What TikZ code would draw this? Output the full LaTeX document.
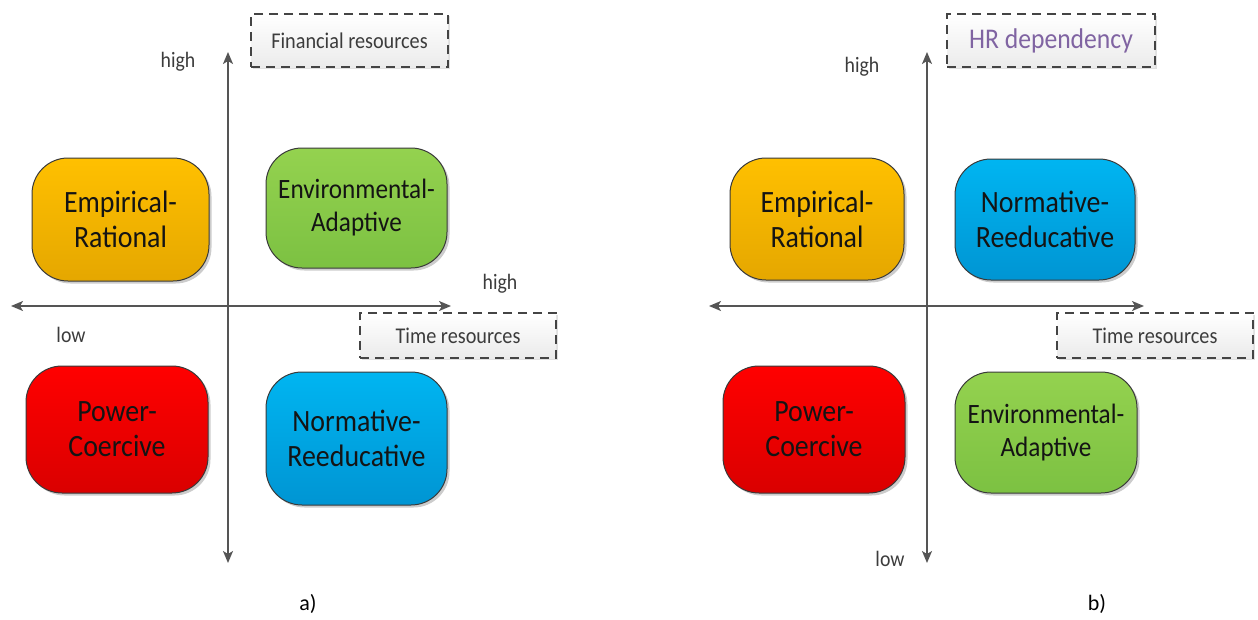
\documentclass[tikz,border=0pt]{standalone}
\usepackage{fontspec}
\setmainfont{Carlito}
\newfontfamily\narrowfont{Carlito}[FakeStretch=0.9]
\usetikzlibrary{arrows.meta,shadows}

\definecolor{boxline}{HTML}{3A3A3A}
\definecolor{textdark}{HTML}{141414}
\definecolor{axisgray}{HTML}{555555}
\definecolor{dashgray}{HTML}{444444}
\definecolor{labelgray}{HTML}{3C3C3C}
\definecolor{hrpurple}{HTML}{8064A2}
\definecolor{orangetop}{HTML}{FFC000}
\definecolor{orangebot}{HTML}{E5A700}
\definecolor{greentop}{HTML}{94D24F}
\definecolor{greenbot}{HTML}{7CC142}
\definecolor{bluetop}{HTML}{00B5F1}
\definecolor{bluebot}{HTML}{0095D3}
\definecolor{redtop}{HTML}{FF0000}
\definecolor{redbot}{HTML}{DA0000}
\definecolor{paletop}{HTML}{FFFFFF}
\definecolor{palebot}{HTML}{EBEBEB}

\tikzset{
  quad/.style={draw=boxline, line width=1pt, rounded corners=36pt,
    align=center, text=textdark, inner sep=0pt,
    font=\narrowfont\fontsize{31}{35}\selectfont,
    drop shadow={shadow xshift=2.5pt, shadow yshift=-2.5pt, opacity=0.2, fill=black}},
  smallquad/.style={quad, font=\narrowfont\fontsize{28}{33}\selectfont},
  orangebox/.style={top color=orangetop, bottom color=orangebot},
  greenbox/.style={top color=greentop, bottom color=greenbot},
  bluebox/.style={top color=bluetop, bottom color=bluebot},
  redbox/.style={top color=redtop, bottom color=redbot},
  legendbox/.style={draw=dashgray, line width=1.5pt, dash pattern=on 9pt off 6pt,
    top color=paletop, bottom color=palebot, inner sep=0pt,
    font=\narrowfont\fontsize{22.5}{26}\selectfont, text=labelgray,
    drop shadow={shadow xshift=2pt, shadow yshift=-2pt, opacity=0.12, fill=black}},
  axis/.style={draw=axisgray, line width=1.6pt,
    {Stealth[length=12pt,width=10pt,inset=3pt]}-{Stealth[length=12pt,width=10pt,inset=3pt]}},
  lbl/.style={font=\narrowfont\fontsize{22}{26}\selectfont, text=labelgray, inner sep=0pt},
  caption/.style={font=\fontsize{22}{26}\selectfont, text=black, inner sep=0pt}
}

\begin{document}
\begin{tikzpicture}[x=1pt, y=-1pt]
\useasboundingbox (0,0) rectangle (1258,619);

% ---------- panel a ----------
\coordinate (aTop) at (228,52);
\coordinate (aBot) at (228,563);
\coordinate (aLeft) at (11,306);
\coordinate (aRight) at (451,306);
\draw[axis] (aBot) -- (aTop);
\draw[axis] (aLeft) -- (aRight);

\node[legendbox, minimum width=197pt, minimum height=53pt] (finres) at (349.5,40.5) {Financial resources};
\node[legendbox, minimum width=196pt, minimum height=45pt] (timeA) at (458,335.5) {Time resources};

\node[quad, orangebox, minimum width=177pt, minimum height=123pt] (erA) at (120.5,219.5) {Empirical-\\Rational};
\node[smallquad, greenbox, minimum width=181pt, minimum height=120pt] (eaA) at (356.5,208) {Environmental-\\Adaptive};
\node[quad, redbox, minimum width=182pt, minimum height=127pt] (pcA) at (117,429.5) {Power-\\Coercive};
\node[quad, bluebox, minimum width=181pt, minimum height=133pt] (nrA) at (356.5,438.5) {Normative-\\Reeducative};

\node[lbl] (aHighV) at (178,62) {high};
\node[lbl] (aHighH) at (500,284) {high};
\node[lbl] (aLow) at (71,335) {low};
\node[caption] (capA) at (308,604) {a)};

% ---------- panel b ----------
\coordinate (bTop) at (927,52);
\coordinate (bBot) at (927,563);
\coordinate (bLeft) at (709,306);
\coordinate (bRight) at (1144,306);
\draw[axis] (bBot) -- (bTop);
\draw[axis] (bLeft) -- (bRight);

\node[legendbox, minimum width=208pt, minimum height=53pt, text=hrpurple,
      font=\narrowfont\fontsize{28.5}{32}\selectfont] (hrdep) at (1051,40.5) {HR dependency};
\node[legendbox, minimum width=196pt, minimum height=45pt] (timeB) at (1155,335.5) {Time resources};

\node[quad, orangebox, minimum width=174pt, minimum height=122pt] (erB) at (817,219) {Empirical-\\Rational};
\node[quad, bluebox, minimum width=180pt, minimum height=121pt] (nrB) at (1045,219.5) {Normative-\\Reeducative};
\node[quad, redbox, minimum width=182pt, minimum height=127pt] (pcB) at (814,429.5) {Power-\\Coercive};
\node[smallquad, greenbox, minimum width=182pt, minimum height=121pt] (eaB) at (1046,432.5) {Environmental-\\Adaptive};

\node[lbl] (bHighV) at (862,67) {high};
\node[lbl] (bLow) at (890,559) {low};
\node[caption] (capB) at (1097,604) {b)};
\end{tikzpicture}
\end{document}
